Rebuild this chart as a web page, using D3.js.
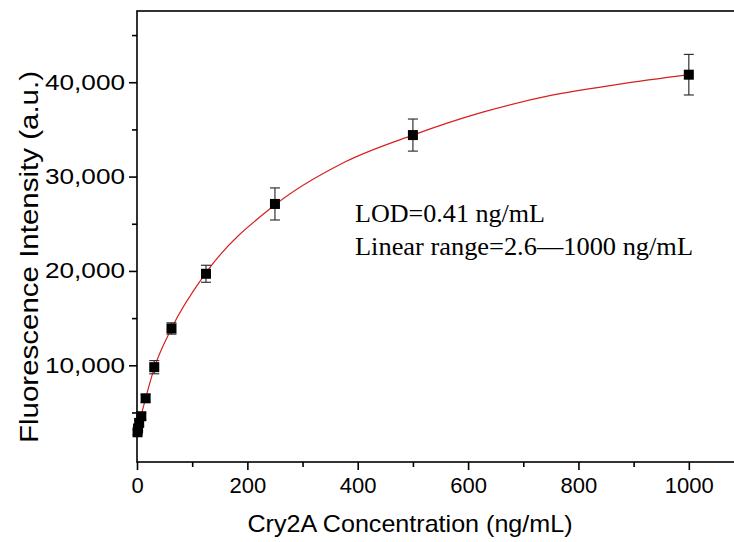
<!DOCTYPE html>
<html>
<head>
<meta charset="utf-8">
<script src="https://cdn.jsdelivr.net/npm/d3@7"></script>
<style>
  body { margin: 0; background: #fff; }
  svg { display: block; }
</style>
</head>
<body>
<svg id="chart"></svg>
<script>
"use strict";

// measured points (concentration ng/mL, intensity, sd)
var conc = [0.98, 1.95, 3.9, 7.8, 15.6, 31.25, 62.5, 125, 250, 500, 1000];
var intensity = [2900, 3300, 3900, 4600, 6500, 9800, 13900, 19700, 27100, 34400, 40800];
var errs = [250, 250, 300, 350, 400, 700, 600, 900, 1700, 1700, 2150];

// fitted curve
var fitX = [0, 1, 2, 4, 8, 15.6, 31.25, 62.5, 125, 250, 375, 500, 625, 750, 875, 1000];
var fitY = [2400, 2800, 3200, 3900, 4800, 6500, 9700, 13900, 19800, 27000, 31500, 34400, 36800, 38600, 39800, 40800];

var xTicks = [0, 200, 400, 600, 800, 1000];
var yTicks = [10000, 20000, 30000, 40000];

var width = 734, height = 542;
var svg = d3.select('#chart').attr('width', width).attr('height', height);

var x = d3.scaleLinear().domain([0, 1100]).range([137, 744]);
var y = d3.scaleLinear().domain([-250, 47550]).range([462, 11]);

var fmt = d3.format(',');
var sans = 'Liberation Sans, Arial, sans-serif';

// frame
svg.append('rect')
    .attr('x', 137).attr('y', 11)
    .attr('width', 744 - 137).attr('height', 462 - 11)
    .attr('fill', 'none')
    .attr('stroke', '#000')
    .attr('stroke-width', 1.6);

// x axis
var xAxis = svg.append('g')
    .attr('transform', 'translate(0,462)')
    .call(d3.axisBottom(x).tickValues(xTicks).tickSize(8).tickPadding(7).tickFormat(d3.format('d')));
svg.append('g')
    .attr('transform', 'translate(0,462)')
    .call(d3.axisBottom(x).tickValues(d3.range(100, 1100, 200)).tickSize(5).tickFormat(''));

// y axis
var yAxis = svg.append('g')
    .attr('transform', 'translate(137,0)')
    .call(d3.axisLeft(y).tickValues(yTicks).tickSize(8).tickPadding(4).tickFormat(fmt));
svg.append('g')
    .attr('transform', 'translate(137,0)')
    .call(d3.axisLeft(y).tickValues(d3.range(5000, 50000, 10000)).tickSize(5).tickFormat(''));

svg.selectAll('.domain').remove();
svg.selectAll('.tick line').attr('stroke', '#000').attr('stroke-width', 1.6);
svg.selectAll('.tick text')
    .attr('fill', '#000')
    .style('font-family', sans)
    .style('font-size', '22px');
yAxis.selectAll('.tick text')
    .attr('textLength', 80)
    .attr('lengthAdjust', 'spacingAndGlyphs');

// axis titles
svg.append('text')
    .attr('x', 410).attr('y', 532)
    .attr('text-anchor', 'middle')
    .attr('textLength', 325)
    .attr('lengthAdjust', 'spacingAndGlyphs')
    .style('font-family', sans)
    .style('font-size', '24px')
    .text('Cry2A Concentration (ng/mL)');

svg.append('text')
    .attr('transform', 'translate(38,257) rotate(-90)')
    .attr('text-anchor', 'middle')
    .attr('textLength', 372)
    .attr('lengthAdjust', 'spacingAndGlyphs')
    .style('font-family', sans)
    .style('font-size', '26px')
    .text('Fluorescence Intensity (a.u.)');

// fit line
var line = d3.line()
    .x(d => x(d[0]))
    .y(d => y(d[1]))
    .curve(d3.curveMonotoneX);

svg.append('path')
    .datum(d3.zip(fitX, fitY))
    .attr('d', line)
    .attr('fill', 'none')
    .attr('stroke', '#d62020')
    .attr('stroke-width', 1.2);

// error bars
var pts = conc.map((c, i) => ({ c: c, v: intensity[i], e: errs[i] }));

var eb = svg.append('g').attr('stroke', '#333').attr('stroke-width', 1.2);
pts.forEach(p => {
    var cx = x(p.c);
    eb.append('line')
        .attr('x1', cx).attr('x2', cx)
        .attr('y1', y(p.v - p.e)).attr('y2', y(p.v + p.e));
    [p.v - p.e, p.v + p.e].forEach(v => {
        eb.append('line')
            .attr('x1', cx - 5).attr('x2', cx + 5)
            .attr('y1', y(v)).attr('y2', y(v));
    });
});

// markers
svg.append('g').selectAll('rect')
    .data(pts)
    .enter()
    .append('rect')
    .attr('x', d => x(d.c) - 5)
    .attr('y', d => y(d.v) - 5)
    .attr('width', 10)
    .attr('height', 10)
    .attr('fill', '#000');

// annotation
var note = svg.append('g')
    .style('font-family', 'Liberation Serif, Times New Roman, serif')
    .style('font-size', '25px')
    .attr('fill', '#000');
note.append('text').attr('x', 355).attr('y', 222)
    .attr('textLength', 190).attr('lengthAdjust', 'spacingAndGlyphs')
    .text('LOD=0.41 ng/mL');
note.append('text').attr('x', 355).attr('y', 255)
    .attr('textLength', 338).attr('lengthAdjust', 'spacingAndGlyphs')
    .text('Linear range=2.6\u20141000 ng/mL');
</script>
</body>
</html>
